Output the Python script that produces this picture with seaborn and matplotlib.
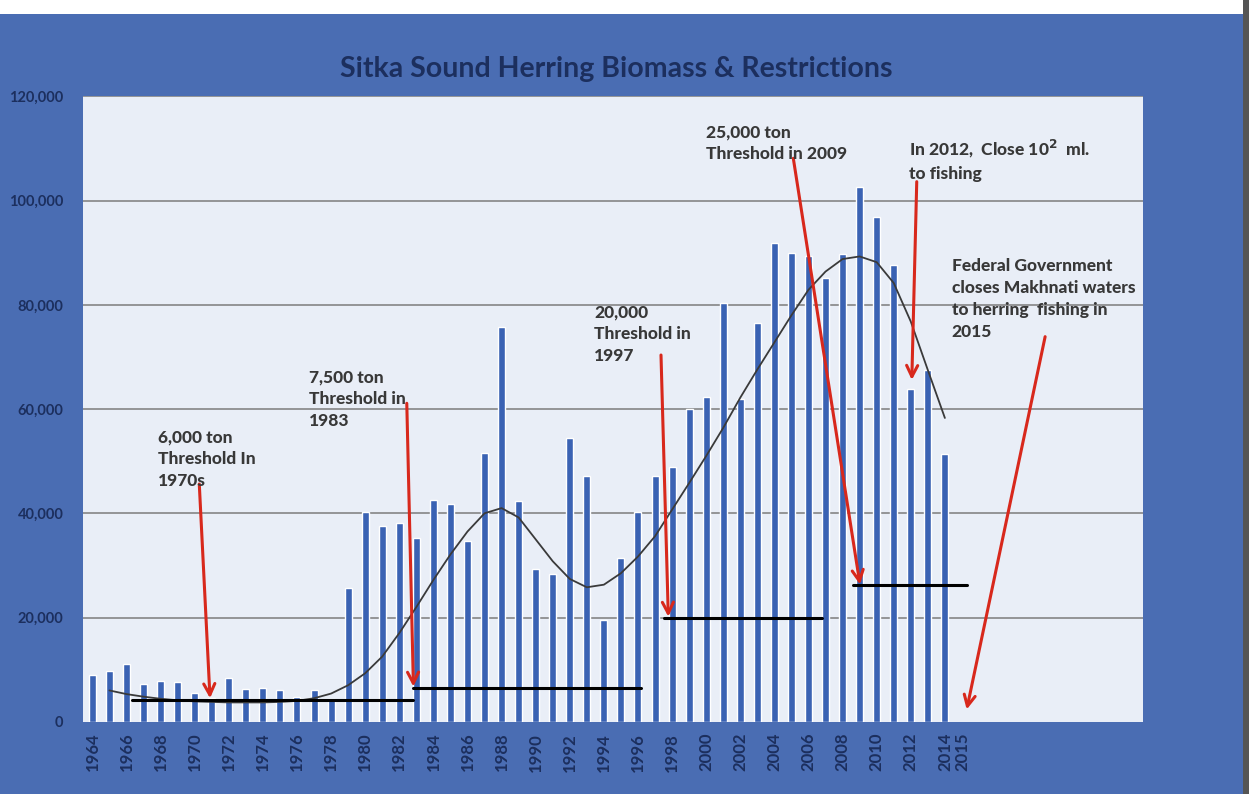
import matplotlib
matplotlib.use("Agg")
import matplotlib.pyplot as plt
import seaborn as sns
import pandas as pd
from matplotlib.patches import Rectangle
from matplotlib.ticker import FuncFormatter

# biomass bars (tons), 1964-2014
years = list(range(1964, 2015))
biomass = [9000, 9700, 11000, 7300, 7900, 7600, 5600, 4600, 8400, 6300,
           6500, 6100, 4700, 6000, 4400, 25700, 40200, 37500, 38100, 35200,
           42600, 41800, 34700, 51600, 75700, 42400, 29400, 28300, 54500, 47200,
           19600, 31400, 40200, 47200, 48800, 60100, 62400, 80400, 62000, 76600,
           91900, 90000, 89300, 85200, 89800, 102700, 96800, 87600, 63800, 67500,
           51300]

# trend curve, 1965-2014
trend_years = list(range(1965, 2015))
trend = [6000, 5300, 4800, 4400, 4100, 3900, 3800, 3700, 3700, 3700,
         3800, 4000, 4500, 5400, 7000, 9300, 12500, 17000, 22000, 27200,
         32100, 36500, 40000, 41000, 39200, 35000, 30800, 27400, 25800, 26300,
         28500, 31700, 35600, 40700, 45800, 51000, 56400, 62200, 67600, 72800,
         78000, 82900, 86400, 88800, 89300, 88200, 84200, 76800, 67500, 58300]

tick_years = list(range(1964, 2015, 2)) + [2015]

# threshold levels: start year, end year, tons
thr_start = [1966.3, 1982.8, 1997.5, 2008.6]
thr_end = [1982.8, 1996.2, 2006.8, 2015.3]
thr_level = [4100, 6400, 20000, 26300]

notes = [
    "6,000 ton\nThreshold In\n1970s",
    "7,500 ton\nThreshold in\n1983",
    "20,000\nThreshold in\n1997",
    "25,000 ton\nThreshold in 2009",
    "In 2012,  Close 10$^\\mathbf{2}$  ml.\nto fishing",
    "Federal Government\ncloses Makhnati waters\nto herring  fishing in\n2015",
]
note_x = [1967.84, 1976.71, 1993.42, 2000.0, 2011.9, 2014.4]
note_y = [50330, 61930, 74420, 110980, 107810, 81130]

# arrows: tail -> head
arrow_tail = [(1970.27, 45620), (1982.44, 61110), (1997.35, 70380),
              (2005.11, 108140), (2012.35, 103650), (2019.88, 73900)]
arrow_head = [(1970.9, 4500), (1982.83, 6720), (1997.78, 20150),
              (2009.02, 26330), (2012.06, 65590), (2015.28, 2340)]

bg_blue = "#4a6db3"
navy = "#1c2f5e"

sns.set_style("white")
plt.rcParams["font.family"] = ["Lato", "DejaVu Sans"]

fig = plt.figure(figsize=(12.49, 7.94), dpi=100)
fig.patch.set_facecolor(bg_blue)
# white scan margin on top and dark scan edge on the right
fig.patches.append(Rectangle((0, 0.982), 1, 0.018, transform=fig.transFigure,
                             facecolor="white", edgecolor="none", zorder=-1))
fig.patches.append(Rectangle((0.9955, 0), 0.0045, 1, transform=fig.transFigure,
                             facecolor="#555555", edgecolor="none", zorder=-1))

ax = fig.add_axes([83 / 1249, 72.3 / 794, 1060 / 1249, 625.2 / 794])
ax.set_zorder(2)
ax.set_facecolor("#e9eef7")

df = pd.DataFrame({"Year": years, "Biomass": biomass})
sns.barplot(data=df, x="Year", y="Biomass", native_scale=True, width=0.41,
            color="#3a62b3", saturation=1, errorbar=None, ax=ax, zorder=2)

for y in range(20000, 120001, 20000):
    ax.axhline(y, color="#858585", lw=1.2, zorder=1)

sns.lineplot(x=trend_years, y=trend, color="#3a3a3a", lw=1.3, ax=ax, zorder=3)

for s, e, lvl in zip(thr_start, thr_end, thr_level):
    ax.plot([s, e], [lvl, lvl], color="black", lw=2.2, zorder=4)

for tail, head in zip(arrow_tail, arrow_head):
    ax.annotate("", xy=head, xytext=tail,
                arrowprops=dict(arrowstyle="->", color="#d8281c", lw=2.2,
                                mutation_scale=20, shrinkA=0, shrinkB=0),
                zorder=5)

for s, x, y in zip(notes, note_x, note_y):
    ax.text(x, y, s, ha="left", va="center", fontsize=12.5, fontweight="black",
            color="#383838", linespacing=1.45, zorder=6)

ax.set_xlim(1963.45, 2025.62)
ax.set_ylim(0, 120000)
ax.set_xticks(tick_years)
ax.set_xticklabels([str(t) for t in tick_years], rotation=90, fontsize=12,
                   fontweight="bold", color=navy)
ax.set_yticks(range(0, 120001, 20000))
ax.yaxis.set_major_formatter(FuncFormatter(lambda v, p: f"{int(v):,}"))
for lab in ax.get_yticklabels():
    lab.set_fontsize(10.5)
    lab.set_fontweight("bold")
    lab.set_color(navy)
ax.tick_params(axis="x", length=0, pad=8)
ax.tick_params(axis="y", length=0, pad=14)
ax.set_xlabel("")
ax.set_ylabel("")
for sp in ax.spines.values():
    sp.set_visible(False)

fig.text(616 / 1249, 1 - 69 / 794, "Sitka Sound Herring Biomass & Restrictions",
         ha="center", va="center", fontsize=20.5, fontweight="bold", color=navy)

fig.savefig("out.png", dpi=100, facecolor=fig.get_facecolor())
